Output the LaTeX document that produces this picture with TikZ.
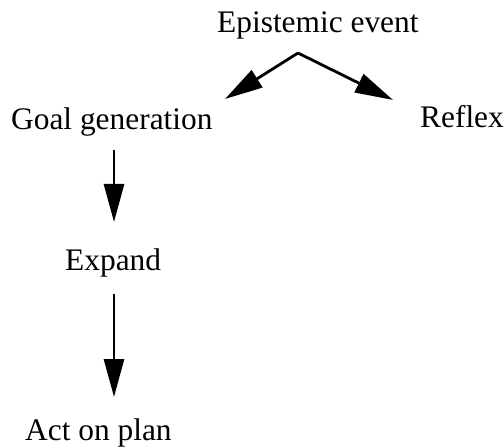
\documentclass[tikz,border=0pt]{standalone}
\usepackage{fontspec}
\setmainfont{Liberation Serif}
\usetikzlibrary{arrows.meta}
\begin{document}
\begin{tikzpicture}[x=1bp,y=-1bp,
  lbl/.style={anchor=base west,inner sep=0pt,font=\fontsize{31.5}{38}\selectfont},
  conn/.style={line width=2.8bp,-{Triangle[length=38bp,width=20bp]}}]
\useasboundingbox (0,0) rectangle (504,448);
\node[lbl] (epi) at (217,33) {Epistemic event};
\node[lbl] (goal) at (11,130) {Goal generation};
\node[lbl] (reflex) at (420,128) {Reflex};
\node[lbl] (expand) at (65,270) {Expand};
\node[lbl] (act) at (25,440) {Act on plan};
\coordinate (apex) at (298,53);
\coordinate (goaltop) at (225,99);
\coordinate (reflextop) at (393,100);
\coordinate (g1) at (114,150);
\coordinate (e1) at (114,222);
\coordinate (e2) at (114,294);
\coordinate (a1) at (114,397);
\draw[conn] (apex) -- (goaltop);
\draw[conn] (apex) -- (reflextop);
\draw[conn] (g1) -- (e1);
\draw[conn] (e2) -- (a1);
\end{tikzpicture}
\end{document}
